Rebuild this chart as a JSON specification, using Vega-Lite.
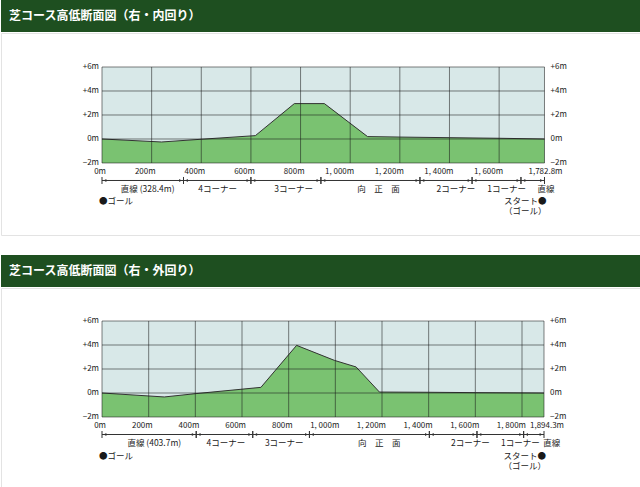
{
  "$schema": "https://vega.github.io/schema/vega-lite/v6.json",
  "padding": 0,
  "spacing": 19,
  "config": {
    "view": {"stroke": null},
    "font": "Noto Sans CJK JP",
    "text": {"font": "Noto Sans CJK JP", "color": "#1a1a1a"}
  },
  "datasets": {
    "inner_profile": [
      {"d": 0, "e": 0}, {"d": 240, "e": -0.25}, {"d": 400, "e": -0.02}, {"d": 618, "e": 0.28},
      {"d": 775, "e": 2.95}, {"d": 896, "e": 2.95}, {"d": 1070, "e": 0.2}, {"d": 1200, "e": 0.16},
      {"d": 1400, "e": 0.11}, {"d": 1600, "e": 0.06}, {"d": 1782.8, "e": 0}
    ],
    "outer_profile": [
      {"d": 0, "e": 0}, {"d": 267, "e": -0.33}, {"d": 403, "e": -0.05}, {"d": 681, "e": 0.47},
      {"d": 834, "e": 3.97}, {"d": 996, "e": 2.72}, {"d": 1089, "e": 2.17}, {"d": 1189, "e": 0.08},
      {"d": 1400, "e": 0.06}, {"d": 1600, "e": 0.03}, {"d": 1894.3, "e": 0}
    ],
    "levels": [
      {"e": 6, "t": "+6m"}, {"e": 4, "t": "+4m"}, {"e": 2, "t": "+2m"}, {"e": 0, "t": "0m"}, {"e": -2, "t": "−2m"}
    ],
    "inner_ticks": [
      {"d": 0, "t": "0m", "kind": "tick"}, {"d": 200, "t": "200m", "kind": "tick"}, {"d": 400, "t": "400m", "kind": "tick"},
      {"d": 600, "t": "600m", "kind": "tick"}, {"d": 800, "t": "800m", "kind": "tick"}, {"d": 1000, "t": "1, 000m", "kind": "tick"},
      {"d": 1200, "t": "1, 200m", "kind": "tick"}, {"d": 1400, "t": "1, 400m", "kind": "tick"}, {"d": 1600, "t": "1, 600m", "kind": "tick"},
      {"d": 1782.8, "t": "1,782.8m", "kind": "end"}
    ],
    "outer_ticks": [
      {"d": 0, "t": "0m", "kind": "tick"}, {"d": 200, "t": "200m", "kind": "tick"}, {"d": 400, "t": "400m", "kind": "tick"},
      {"d": 600, "t": "600m", "kind": "tick"}, {"d": 800, "t": "800m", "kind": "tick"}, {"d": 1000, "t": "1, 000m", "kind": "tick"},
      {"d": 1200, "t": "1, 200m", "kind": "tick"}, {"d": 1400, "t": "1, 400m", "kind": "tick"}, {"d": 1600, "t": "1, 600m", "kind": "tick"},
      {"d": 1800, "t": "1, 800m", "kind": "tick"}, {"d": 1894.3, "t": "1,894.3m", "kind": "end"}
    ],
    "inner_segments": [
      {"from": 0, "to": 328.4, "name": "直線 (328.4m)", "c": 184},
      {"from": 328.4, "to": 600, "name": "4コーナー", "c": 466},
      {"from": 600, "to": 882, "name": "3コーナー", "c": 772},
      {"from": 882, "to": 1281, "name": "向　正　面", "c": 1114},
      {"from": 1281, "to": 1491, "name": "2コーナー", "c": 1426},
      {"from": 1491, "to": 1688, "name": "1コーナー", "c": 1630},
      {"from": 1688, "to": 1782.8, "name": "直線", "c": 1789}
    ],
    "outer_segments": [
      {"from": 0, "to": 403.7, "name": "直線 (403.7m)", "c": 224},
      {"from": 403.7, "to": 646, "name": "4コーナー", "c": 531},
      {"from": 646, "to": 889, "name": "3コーナー", "c": 781},
      {"from": 889, "to": 1403, "name": "向　正　面", "c": 1188},
      {"from": 1403, "to": 1607, "name": "2コーナー", "c": 1579},
      {"from": 1607, "to": 1807, "name": "1コーナー", "c": 1793},
      {"from": 1807, "to": 1894.3, "name": "直線", "c": 1928}
    ],
    "inner_notes": [
      {"d": 0, "t": "●ゴール", "role": "goal"},
      {"d": 1782.8, "t": "スタート●\n（ゴール）", "role": "start"}
    ],
    "outer_notes": [
      {"d": 0, "t": "●ゴール", "role": "goal"},
      {"d": 1894.3, "t": "スタート●\n（ゴール）", "role": "start"}
    ]
  },
  "vconcat": [
    {
      "spacing": 0,
      "vconcat": [
        {
          "width": 640, "height": 32,
          "data": {"values": [{"header": "芝コース高低断面図（右・内回り）"}]},
          "layer": [
            {"mark": {"type": "rect", "color": "#1e4f20"},
             "encoding": {
               "x": {"datum": 0, "type": "quantitative", "scale": {"domain": [0, 1], "nice": false, "zero": false}, "axis": null},
               "x2": {"datum": 1},
               "y": {"datum": 0, "type": "quantitative", "scale": {"domain": [0, 1], "nice": false, "zero": false}, "axis": null},
               "y2": {"datum": 1}}},
            {"mark": {"type": "text", "align": "left", "baseline": "middle", "dx": 8, "color": "#ffffff", "fontSize": 12, "fontWeight": "bold"},
             "encoding": {
               "x": {"datum": 0, "type": "quantitative"},
               "y": {"datum": 0.5, "type": "quantitative"},
               "text": {"field": "header"}}}
          ]
        },
        {
          "width": 640, "height": 202,
          "view": {"stroke": "#e3e3e3", "strokeWidth": 1},
          "layer": [
            {"data": {"name": "inner_ticks"}, "transform": [{"filter": "datum.kind == 'end'"}],
             "mark": {"type": "rect", "color": "#d8e8e8"},
             "encoding": {
               "x": {"datum": 0, "type": "quantitative", "scale": {"domain": [-406.9, 2171.6], "nice": false, "zero": false}, "axis": null},
               "x2": {"datum": 1782.8},
               "y": {"datum": -2, "type": "quantitative", "scale": {"domain": [-8, 8.833], "nice": false, "zero": false}, "axis": null},
               "y2": {"datum": 6}}},
            {"data": {"name": "inner_profile"}, "mark": {"type": "area", "color": "#7ac271"},
             "encoding": {"x": {"field": "d", "type": "quantitative"}, "y": {"field": "e", "type": "quantitative"}, "y2": {"datum": -2}}},
            {"data": {"name": "inner_profile"}, "mark": {"type": "line", "color": "#333333", "strokeWidth": 1},
             "encoding": {"x": {"field": "d", "type": "quantitative"}, "y": {"field": "e", "type": "quantitative"}}},
            {"data": {"name": "levels"}, "mark": {"type": "rule", "color": "#1a1a1a", "opacity": 0.55},
             "encoding": {"y": {"field": "e", "type": "quantitative"}, "x": {"datum": 0, "type": "quantitative"}, "x2": {"datum": 1782.8}}},
            {"data": {"name": "inner_ticks"}, "mark": {"type": "rule", "color": "#1a1a1a", "opacity": 0.55},
             "encoding": {"x": {"field": "d", "type": "quantitative"}, "y": {"datum": -2, "type": "quantitative"}, "y2": {"datum": 6}}},
            {"data": {"name": "levels"}, "mark": {"type": "text", "align": "right", "baseline": "middle", "dx": -3, "fontSize": 8},
             "encoding": {"x": {"datum": 0, "type": "quantitative"}, "y": {"field": "e", "type": "quantitative"}, "text": {"field": "t"}}},
            {"data": {"name": "levels"}, "mark": {"type": "text", "align": "left", "baseline": "middle", "dx": 6, "fontSize": 8},
             "encoding": {"x": {"datum": 1782.8, "type": "quantitative"}, "y": {"field": "e", "type": "quantitative"}, "text": {"field": "t"}}},
            {"data": {"name": "inner_ticks"}, "transform": [{"filter": "datum.kind == 'tick'"}],
             "mark": {"type": "text", "align": "right", "baseline": "middle", "dx": 4, "dy": 9, "fontSize": 8},
             "encoding": {"x": {"field": "d", "type": "quantitative"}, "y": {"datum": -2, "type": "quantitative"}, "text": {"field": "t"}}},
            {"data": {"name": "inner_ticks"}, "transform": [{"filter": "datum.kind == 'end'"}],
             "mark": {"type": "text", "align": "center", "baseline": "middle", "dx": 1, "dy": 9, "fontSize": 8},
             "encoding": {"x": {"field": "d", "type": "quantitative"}, "y": {"datum": -2, "type": "quantitative"}, "text": {"field": "t"}}},
            {"data": {"name": "inner_ticks"}, "transform": [{"filter": "datum.kind == 'end'"}],
             "mark": {"type": "rule", "color": "#333333", "yOffset": 17.5},
             "encoding": {"x": {"datum": 0, "type": "quantitative"}, "x2": {"datum": 1782.8}, "y": {"datum": -2, "type": "quantitative"}}},
            {"data": {"name": "inner_segments"}, "mark": {"type": "rule", "color": "#333333", "yOffset": 14, "y2Offset": 21},
             "encoding": {"x": {"field": "from", "type": "quantitative"}, "y": {"datum": -2, "type": "quantitative"}, "y2": {"datum": -2}}},
            {"data": {"name": "inner_segments"}, "mark": {"type": "rule", "color": "#333333", "yOffset": 14, "y2Offset": 21},
             "encoding": {"x": {"field": "to", "type": "quantitative"}, "y": {"datum": -2, "type": "quantitative"}, "y2": {"datum": -2}}},
            {"data": {"name": "inner_segments"}, "mark": {"type": "point", "shape": "triangle-left", "filled": true, "size": 10, "color": "#333333", "opacity": 1, "xOffset": 3, "yOffset": 17.5},
             "encoding": {"x": {"field": "from", "type": "quantitative"}, "y": {"datum": -2, "type": "quantitative"}}},
            {"data": {"name": "inner_segments"}, "mark": {"type": "point", "shape": "triangle-right", "filled": true, "size": 10, "color": "#333333", "opacity": 1, "xOffset": -3, "yOffset": 17.5},
             "encoding": {"x": {"field": "to", "type": "quantitative"}, "y": {"datum": -2, "type": "quantitative"}}},
            {"data": {"name": "inner_segments"}, "mark": {"type": "text", "align": "center", "baseline": "middle", "dy": 26, "fontSize": 8.5},
             "encoding": {"x": {"field": "c", "type": "quantitative"}, "y": {"datum": -2, "type": "quantitative"}, "text": {"field": "name"}}},
            {"data": {"name": "inner_notes"}, "transform": [{"filter": "datum.role == 'goal'"}],
             "mark": {"type": "text", "align": "left", "baseline": "middle", "dx": -3, "dy": 38.5, "fontSize": 8.5},
             "encoding": {"x": {"field": "d", "type": "quantitative"}, "y": {"datum": -2, "type": "quantitative"}, "text": {"field": "t"}}},
            {"data": {"name": "inner_notes"}, "transform": [{"filter": "datum.role == 'start'"}],
             "mark": {"type": "text", "align": "right", "baseline": "top", "dx": 2, "dy": 34.5, "fontSize": 8.5, "lineBreak": "\n", "lineHeight": 10},
             "encoding": {"x": {"field": "d", "type": "quantitative"}, "y": {"datum": -2, "type": "quantitative"}, "text": {"field": "t"}}}
          ]
        }
      ]
    },
    {
      "spacing": 0,
      "vconcat": [
        {
          "width": 640, "height": 32,
          "data": {"values": [{"header": "芝コース高低断面図（右・外回り）"}]},
          "layer": [
            {"mark": {"type": "rect", "color": "#1e4f20"},
             "encoding": {
               "x": {"datum": 0, "type": "quantitative", "scale": {"domain": [0, 1], "nice": false, "zero": false}, "axis": null},
               "x2": {"datum": 1},
               "y": {"datum": 0, "type": "quantitative", "scale": {"domain": [0, 1], "nice": false, "zero": false}, "axis": null},
               "y2": {"datum": 1}}},
            {"mark": {"type": "text", "align": "left", "baseline": "middle", "dx": 8, "color": "#ffffff", "fontSize": 12, "fontWeight": "bold"},
             "encoding": {
               "x": {"datum": 0, "type": "quantitative"},
               "y": {"datum": 0.5, "type": "quantitative"},
               "text": {"field": "header"}}}
          ]
        },
        {
          "width": 640, "height": 201,
          "view": {"stroke": "#e3e3e3", "strokeWidth": 1},
          "layer": [
            {"data": {"name": "outer_ticks"}, "transform": [{"filter": "datum.kind == 'end'"}],
             "mark": {"type": "rect", "color": "#d8e8e8"},
             "encoding": {
               "x": {"datum": 0, "type": "quantitative", "scale": {"domain": [-432.9, 2310.0], "nice": false, "zero": false}, "axis": null},
               "x2": {"datum": 1894.3},
               "y": {"datum": -2, "type": "quantitative", "scale": {"domain": [-8, 8.75], "nice": false, "zero": false}, "axis": null},
               "y2": {"datum": 6}}},
            {"data": {"name": "outer_profile"}, "mark": {"type": "area", "color": "#7ac271"},
             "encoding": {"x": {"field": "d", "type": "quantitative"}, "y": {"field": "e", "type": "quantitative"}, "y2": {"datum": -2}}},
            {"data": {"name": "outer_profile"}, "mark": {"type": "line", "color": "#333333", "strokeWidth": 1},
             "encoding": {"x": {"field": "d", "type": "quantitative"}, "y": {"field": "e", "type": "quantitative"}}},
            {"data": {"name": "levels"}, "mark": {"type": "rule", "color": "#1a1a1a", "opacity": 0.55},
             "encoding": {"y": {"field": "e", "type": "quantitative"}, "x": {"datum": 0, "type": "quantitative"}, "x2": {"datum": 1894.3}}},
            {"data": {"name": "outer_ticks"}, "mark": {"type": "rule", "color": "#1a1a1a", "opacity": 0.55},
             "encoding": {"x": {"field": "d", "type": "quantitative"}, "y": {"datum": -2, "type": "quantitative"}, "y2": {"datum": 6}}},
            {"data": {"name": "levels"}, "mark": {"type": "text", "align": "right", "baseline": "middle", "dx": -3, "fontSize": 8},
             "encoding": {"x": {"datum": 0, "type": "quantitative"}, "y": {"field": "e", "type": "quantitative"}, "text": {"field": "t"}}},
            {"data": {"name": "levels"}, "mark": {"type": "text", "align": "left", "baseline": "middle", "dx": 6, "fontSize": 8},
             "encoding": {"x": {"datum": 1894.3, "type": "quantitative"}, "y": {"field": "e", "type": "quantitative"}, "text": {"field": "t"}}},
            {"data": {"name": "outer_ticks"}, "transform": [{"filter": "datum.kind == 'tick'"}],
             "mark": {"type": "text", "align": "right", "baseline": "middle", "dx": 4, "dy": 9, "fontSize": 8},
             "encoding": {"x": {"field": "d", "type": "quantitative"}, "y": {"datum": -2, "type": "quantitative"}, "text": {"field": "t"}}},
            {"data": {"name": "outer_ticks"}, "transform": [{"filter": "datum.kind == 'end'"}],
             "mark": {"type": "text", "align": "center", "baseline": "middle", "dx": 3, "dy": 9, "fontSize": 8},
             "encoding": {"x": {"field": "d", "type": "quantitative"}, "y": {"datum": -2, "type": "quantitative"}, "text": {"field": "t"}}},
            {"data": {"name": "outer_ticks"}, "transform": [{"filter": "datum.kind == 'end'"}],
             "mark": {"type": "rule", "color": "#333333", "yOffset": 17.5},
             "encoding": {"x": {"datum": 0, "type": "quantitative"}, "x2": {"datum": 1894.3}, "y": {"datum": -2, "type": "quantitative"}}},
            {"data": {"name": "outer_segments"}, "mark": {"type": "rule", "color": "#333333", "yOffset": 14, "y2Offset": 21},
             "encoding": {"x": {"field": "from", "type": "quantitative"}, "y": {"datum": -2, "type": "quantitative"}, "y2": {"datum": -2}}},
            {"data": {"name": "outer_segments"}, "mark": {"type": "rule", "color": "#333333", "yOffset": 14, "y2Offset": 21},
             "encoding": {"x": {"field": "to", "type": "quantitative"}, "y": {"datum": -2, "type": "quantitative"}, "y2": {"datum": -2}}},
            {"data": {"name": "outer_segments"}, "mark": {"type": "point", "shape": "triangle-left", "filled": true, "size": 10, "color": "#333333", "opacity": 1, "xOffset": 3, "yOffset": 17.5},
             "encoding": {"x": {"field": "from", "type": "quantitative"}, "y": {"datum": -2, "type": "quantitative"}}},
            {"data": {"name": "outer_segments"}, "mark": {"type": "point", "shape": "triangle-right", "filled": true, "size": 10, "color": "#333333", "opacity": 1, "xOffset": -3, "yOffset": 17.5},
             "encoding": {"x": {"field": "to", "type": "quantitative"}, "y": {"datum": -2, "type": "quantitative"}}},
            {"data": {"name": "outer_segments"}, "mark": {"type": "text", "align": "center", "baseline": "middle", "dy": 26, "fontSize": 8.5},
             "encoding": {"x": {"field": "c", "type": "quantitative"}, "y": {"datum": -2, "type": "quantitative"}, "text": {"field": "name"}}},
            {"data": {"name": "outer_notes"}, "transform": [{"filter": "datum.role == 'goal'"}],
             "mark": {"type": "text", "align": "left", "baseline": "middle", "dx": -3, "dy": 38.5, "fontSize": 8.5},
             "encoding": {"x": {"field": "d", "type": "quantitative"}, "y": {"datum": -2, "type": "quantitative"}, "text": {"field": "t"}}},
            {"data": {"name": "outer_notes"}, "transform": [{"filter": "datum.role == 'start'"}],
             "mark": {"type": "text", "align": "right", "baseline": "top", "dx": 2, "dy": 34.5, "fontSize": 8.5, "lineBreak": "\n", "lineHeight": 10},
             "encoding": {"x": {"field": "d", "type": "quantitative"}, "y": {"datum": -2, "type": "quantitative"}, "text": {"field": "t"}}}
          ]
        }
      ]
    }
  ]
}
